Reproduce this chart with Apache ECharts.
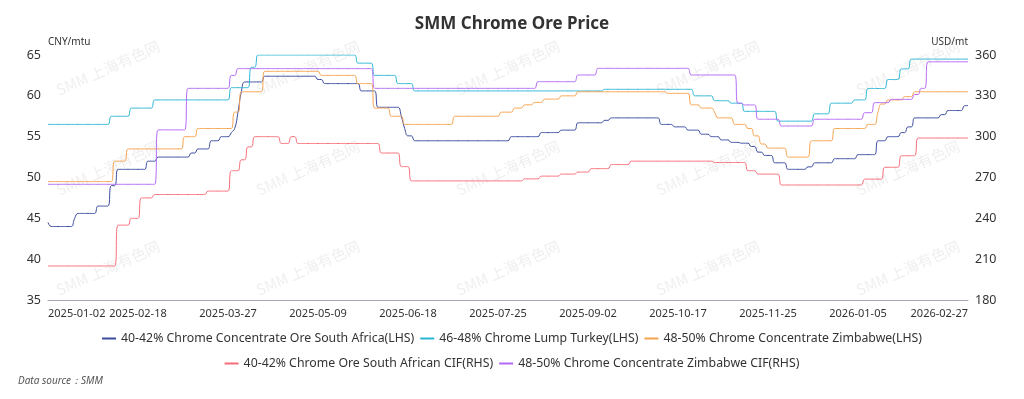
<!DOCTYPE html>
<html>
<head>
<meta charset="utf-8">
<title>SMM Chrome Ore Price</title>
<script src="https://cdn.jsdelivr.net/npm/echarts@6/dist/echarts.min.js"></script>
<style>
  html, body { margin: 0; padding: 0; background: #fff; }
  #chart { width: 1024px; height: 399px; }
</style>
</head>
<body>
<div id="chart"></div>
<script>
// trading days 2025-01-02 .. 2026-02-27 (weekdays minus CN exchange holidays)
var startDate = '2025-01-02'
var endDate = '2026-02-27'
var holidays = [
  '2025-01-28', '2025-01-29', '2025-01-30', '2025-01-31', '2025-02-03', '2025-02-04',
  '2025-04-04', '2025-05-01', '2025-05-02', '2025-05-05', '2025-06-02',
  '2025-10-01', '2025-10-02', '2025-10-03', '2025-10-06', '2025-10-07', '2025-10-08',
  '2026-01-01', '2026-01-02',
  '2026-02-16', '2026-02-17', '2026-02-18', '2026-02-19', '2026-02-20', '2026-02-23'
]

var seriesNames = [
  '40-42% Chrome Concentrate Ore South Africa(LHS)',
  '46-48% Chrome Lump Turkey(LHS)',
  '48-50% Chrome Concentrate Zimbabwe(LHS)',
  '40-42% Chrome Ore South African CIF(RHS)',
  '48-50% Chrome Concentrate Zimbabwe CIF(RHS)'
]

// one row = 27 trading days (one x label step)
var saConc = [
  44.5, 44, 44, 44, 44, 44, 44, 44, 45, 45.6, 45.6, 45.6, 45.6, 45.6, 45.6, 46.5, 46.5, 46.5, 46.5, 49, 49, 51, 51, 51, 51, 51, 51,
  51, 51, 51, 52, 52, 52, 52.5, 52.5, 52.5, 52.5, 52.5, 52.5, 52.5, 52.5, 52.5, 52.5, 53, 53, 53.5, 53.5, 53.5, 53.5, 54.5, 54.5, 54.5, 55, 55,
  55, 55.5, 56, 58, 60.5, 61.7, 61.7, 61.7, 61.7, 61.7, 61.7, 62.4, 62.4, 62.4, 62.4, 62.4, 62.4, 62.4, 62.4, 62.4, 62.4, 62.4, 62.4, 62.4, 62.4, 62.4, 62.4,
  62, 62, 61.5, 61.5, 61.5, 61.5, 61.5, 61.5, 61.5, 61.5, 61.5, 61.5, 61.5, 60.6, 60.6, 60.6, 60.6, 60.6, 58.6, 58.6, 58.6, 58.6, 58.6, 58.6, 58.6, 57.5, 56,
  55.1, 55.1, 54.5, 54.5, 54.5, 54.5, 54.5, 54.5, 54.5, 54.5, 54.5, 54.5, 54.5, 54.5, 54.5, 54.5, 54.5, 54.5, 54.5, 54.5, 54.5, 54.5, 54.5, 54.5, 54.5, 54.5, 54.5,
  54.5, 54.5, 54.5, 54.5, 55, 55, 55, 55, 55, 55, 55, 55, 55, 55.5, 55.5, 55.5, 55.5, 55.5, 55.5, 55.8, 55.8, 55.8, 55.8, 55.8, 56.7, 56.7, 56.7,
  56.7, 56.7, 56.7, 56.7, 56.7, 57, 57, 57.3, 57.3, 57.3, 57.3, 57.3, 57.3, 57.3, 57.3, 57.3, 57.3, 57.3, 57.3, 57.3, 57.3, 57.3, 56.5, 56.5, 56.5, 56.5, 56.2,
  56.2, 56.2, 56.2, 55.8, 55.8, 55.8, 55.8, 55.3, 55.3, 55.3, 55, 55, 55, 54.6, 54.6, 54.6, 54.3, 54.3, 54.3, 54.2, 54.2, 54.2, 53.8, 53.8, 53.1, 53.1, 52.7,
  52.7, 52.7, 51.8, 51.8, 51.8, 51.8, 51, 51, 51, 51, 51, 51, 51.3, 51.3, 51.8, 51.8, 51.8, 51.8, 51.8, 51.8, 52.3, 52.3, 52.3, 52.3, 52.3, 52.3, 52.3,
  52.8, 52.8, 52.8, 52.8, 52.8, 52.8, 54.5, 54.5, 54.5, 55, 55, 55, 55, 55.5, 55.5, 56.2, 56.2, 57.3, 57.3, 57.3, 57.3, 57.3, 57.3, 57.3, 57.3, 57.7, 57.7,
  58.2, 58.2, 58.2, 58.2, 58.2, 58.8, 58.8
]

var turkeyLump = [
  56.5, 56.5, 56.5, 56.5, 56.5, 56.5, 56.5, 56.5, 56.5, 56.5, 56.5, 56.5, 56.5, 56.5, 56.5, 56.5, 56.5, 56.5, 56.5, 57.5, 57.5, 57.5, 57.5, 57.5, 57.5, 58.5, 58.5,
  58.5, 58.5, 58.5, 58.5, 58.5, 59.5, 59.5, 59.5, 59.5, 59.5, 59.5, 59.5, 59.5, 59.5, 59.5, 59.5, 59.5, 59.5, 59.5, 59.5, 59.5, 59.5, 59.5, 59.5, 59.5, 59.5, 59.5,
  59.5, 61, 61, 61, 61, 61, 61, 63.5, 63.5, 65, 65, 65, 65, 65, 65, 65, 65, 65, 65, 65, 65, 65, 65, 65, 65, 65, 65,
  65, 65, 65, 65, 65, 65, 65, 65, 65, 65, 65, 65, 64, 64, 64, 64, 64, 62.5, 62.5, 62.5, 62.5, 62.5, 62.5, 62.5, 61.5, 61.5, 61.5,
  61.5, 61.5, 60.6, 60.6, 60.6, 60.6, 60.6, 60.6, 60.6, 60.6, 60.6, 60.6, 60.6, 60.6, 60.6, 60.6, 60.6, 60.6, 60.6, 60.6, 60.6, 60.6, 60.6, 60.6, 60.6, 60.6, 60.6,
  60.6, 60.6, 60.6, 60.6, 60.6, 60.6, 60.6, 60.6, 60.6, 60.6, 60.6, 60.6, 60.6, 60.6, 60.6, 60.6, 60.6, 60.6, 60.6, 60.6, 60.6, 60.6, 60.6, 60.6, 60.6, 60.6, 60.6,
  60.6, 60.6, 60.6, 60.6, 60.6, 60.8, 60.8, 60.8, 60.8, 60.8, 60.8, 60.8, 60.8, 60.8, 60.8, 60.8, 60.8, 60.8, 60.8, 60.8, 60.8, 60.8, 60.8, 60.8, 60.8, 60.8, 60.8,
  60.8, 60.8, 60.8, 60.8, 60.8, 60, 60, 60, 60, 60, 60, 59.4, 59.4, 59.4, 59.4, 59.4, 59.1, 59.1, 59.1, 59.1, 58.1, 58.1, 58.1, 58.1, 58.1, 58.1, 58.1,
  58.1, 58.1, 58.1, 56.9, 56.9, 56.9, 56.9, 56.9, 56.9, 56.9, 56.9, 56.9, 56.9, 56.9, 57.8, 57.8, 57.8, 57.8, 57.8, 59.1, 59.1, 59.1, 59.1, 59.1, 59.1, 59.1, 59.5,
  59.5, 59.5, 59.5, 60.9, 60.9, 60.9, 60.9, 60.9, 60.9, 62, 62, 62, 62, 63.3, 63.3, 63.3, 64.5, 64.5, 64.5, 64.5, 64.5, 64.5, 64.5, 64.5, 64.5, 64.5, 64.5,
  64.5, 64.5, 64.5, 64.5, 64.5, 64.5, 64.5
]

var zimConc = [
  49.5, 49.5, 49.5, 49.5, 49.5, 49.5, 49.5, 49.5, 49.5, 49.5, 49.5, 49.5, 49.5, 49.5, 49.5, 49.5, 49.5, 49.5, 49.5, 49.5, 52, 52, 52, 52, 53.5, 53.5, 53.5,
  53.5, 53.5, 53.5, 53.5, 53.5, 53.5, 53.5, 53.5, 53.5, 53.5, 53.5, 53.5, 53.5, 53.5, 55, 55, 55, 55, 56, 56, 56, 56, 56, 56, 56, 56, 56,
  56, 56, 58, 58, 60.5, 60.5, 60.5, 60.5, 60.5, 60.5, 60.5, 63, 63, 63, 63, 63, 63, 63, 63, 63, 63, 63, 63, 63, 63, 63, 63,
  63, 62.5, 62.5, 62.5, 62.5, 62.5, 62.5, 62.5, 62.5, 62.5, 62.5, 62.5, 61.5, 61.5, 61.5, 61.5, 61.5, 58.5, 58.5, 58.5, 58.5, 58.5, 57.5, 57.5, 57.5, 57.5, 56.5,
  56.5, 56.5, 56.5, 56.5, 56.5, 56.5, 56.5, 56.5, 56.5, 56.5, 56.5, 56.5, 56.5, 56.5, 57.5, 57.5, 57.5, 57.5, 57.5, 57.5, 57.5, 57.5, 57.5, 57.5, 57.5, 57.5, 57.5,
  57.5, 58, 58, 58, 58, 58.5, 58.5, 58.5, 58.9, 58.9, 58.9, 59.2, 59.2, 59.2, 59.6, 59.6, 59.6, 59.6, 59.6, 60, 60, 60, 60, 60, 60.5, 60.5, 60.5,
  60.5, 60.5, 60.5, 60.5, 60.5, 60.5, 60.5, 60.5, 60.5, 60.5, 60.5, 60.5, 60.5, 60.5, 60.5, 60.5, 60.5, 60.5, 60.5, 60.5, 60.5, 60.5, 60.5, 60.5, 60.3, 60.3, 60.3,
  60.3, 60.3, 60.3, 60.3, 58.9, 58.9, 58.9, 58.5, 58.5, 58.5, 58.5, 58, 57.3, 57.3, 57.3, 57.3, 57.3, 56.5, 56.5, 56.5, 56.5, 56, 56, 55.1, 55.1, 54.1, 54.1,
  53.6, 53.6, 53.6, 53.6, 53.6, 53.6, 52.5, 52.5, 52.5, 52.5, 52.5, 52.5, 52.5, 54.5, 54.5, 54.5, 54.5, 54.5, 54.5, 54.5, 56, 56, 56, 56, 56, 56, 56,
  56, 56, 56, 56.5, 56.5, 56.5, 58, 59, 59, 59.5, 59.5, 59.5, 59.5, 59.5, 59.9, 59.9, 59.9, 60.5, 60.5, 60.5, 60.5, 60.5, 60.5, 60.5, 60.5, 60.5, 60.5,
  60.5, 60.5, 60.5, 60.5, 60.5, 60.5, 60.5
]

var saCif = [
  205, 205, 205, 205, 205, 205, 205, 205, 205, 205, 205, 205, 205, 205, 205, 205, 205, 205, 205, 205, 205, 235, 235, 235, 235, 240, 240,
  240, 255, 255, 255, 255, 257.5, 257.5, 257.5, 257.5, 257.5, 257.5, 257.5, 257.5, 257.5, 257.5, 257.5, 257.5, 257.5, 257.5, 257.5, 257.5, 260, 260, 260, 260, 260, 260,
  260, 275, 275, 275, 283, 283, 292.5, 292.5, 300, 300, 300, 300, 300, 300, 300, 300, 295, 295, 295, 300, 300, 295, 295, 295, 295, 295, 295,
  295, 295, 295, 295, 295, 295, 295, 295, 295, 295, 295, 295, 295, 295, 295, 295, 295, 295, 295, 288, 288, 288, 288, 288, 288, 278, 278,
  278, 267.5, 267.5, 267.5, 267.5, 267.5, 267.5, 267.5, 267.5, 267.5, 267.5, 267.5, 267.5, 267.5, 267.5, 267.5, 267.5, 267.5, 267.5, 267.5, 267.5, 267.5, 267.5, 267.5, 267.5, 267.5, 267.5,
  267.5, 267.5, 267.5, 267.5, 267.5, 267.5, 267.5, 267.5, 269, 269, 269, 269, 269, 271, 271, 271, 271, 271, 271, 272.5, 272.5, 272.5, 272.5, 272.5, 274, 274, 274,
  274, 276.5, 276.5, 276.5, 276.5, 276.5, 276.5, 279.5, 279.5, 279.5, 279.5, 279.5, 279.5, 282, 282, 282, 282, 282, 282, 282, 282, 282, 282, 282, 282, 282, 282,
  282, 282, 282, 282, 282, 282, 282, 282, 282, 282, 282, 281, 281, 281, 281, 281, 281, 281, 281, 281, 281, 275, 275, 275, 272.5, 272.5, 272.5,
  272.5, 272.5, 272.5, 272.5, 264.5, 264.5, 264.5, 264.5, 264.5, 264.5, 264.5, 264.5, 264.5, 264.5, 264.5, 264.5, 264.5, 264.5, 264.5, 264.5, 264.5, 264.5, 264.5, 264.5, 264.5, 264.5, 264.5,
  264.5, 264.5, 268.8, 268.8, 268.8, 268.8, 268.8, 268.8, 277.5, 277.5, 277.5, 277.5, 277.5, 286, 286, 286, 286, 286, 299, 299, 299, 299, 299, 299, 299, 299, 299,
  299, 299, 299, 299, 299, 299, 299
]

var zimCif = [
  265, 265, 265, 265, 265, 265, 265, 265, 265, 265, 265, 265, 265, 265, 265, 265, 265, 265, 265, 265, 265, 265, 265, 265, 265, 265, 265,
  265, 265, 265, 265, 265, 265, 305, 305, 305, 305, 305, 305, 305, 305, 305, 335.5, 335.5, 335.5, 335.5, 335.5, 335.5, 335.5, 335.5, 335.5, 335.5, 335.5, 335.5,
  335.5, 345, 345, 350, 350, 350, 350, 350, 350, 350, 350, 350, 350, 350, 350, 350, 350, 350, 350, 350, 350, 350, 350, 350, 350, 350, 350,
  350, 350, 350, 350, 350, 350, 350, 350, 350, 350, 350, 350, 350, 350, 350, 350, 350, 335.5, 335.5, 335.5, 335.5, 335.5, 335.5, 335.5, 335.5, 335.5, 335.5,
  335.5, 335.5, 335.5, 335.5, 335.5, 335.5, 335.5, 335.5, 335.5, 335.5, 335.5, 335.5, 335.5, 335.5, 335.5, 335.5, 335.5, 335.5, 335.5, 335.5, 335.5, 335.5, 335.5, 335.5, 335.5, 335.5, 335.5,
  335.5, 335.5, 335.5, 335.5, 335.5, 335.5, 335.5, 335.5, 335.5, 335.5, 335.5, 335.5, 340.4, 340.4, 340.4, 340.4, 340.4, 340.4, 340.4, 340.4, 340.4, 340.4, 340.4, 340.4, 345.3, 345.3, 345.3,
  345.3, 345.3, 345.3, 350.2, 350.2, 350.2, 350.2, 350.2, 350.2, 350.2, 350.2, 350.2, 350.2, 350.2, 350.2, 350.2, 350.2, 350.2, 350.2, 350.2, 350.2, 350.2, 350.2, 350.2, 350.2, 350.2, 350.2,
  350.2, 350.2, 350.2, 350.2, 345.3, 345.3, 345.3, 345.3, 345.3, 345.3, 345.3, 345.3, 345.3, 345.3, 345.3, 345.3, 345.3, 345.3, 324.5, 324.5, 323.3, 323.3, 323.3, 323.3, 312.8, 312.8, 312.8,
  312.8, 312.8, 312.8, 312.8, 307.8, 307.8, 307.8, 307.8, 307.8, 307.8, 307.8, 307.8, 307.8, 307.8, 312.8, 312.8, 312.8, 312.8, 312.8, 312.8, 312.8, 312.8, 312.8, 312.8, 312.8, 312.8, 312.8,
  312.8, 312.8, 317.6, 317.6, 317.6, 325, 325, 325, 325, 325, 327.4, 327.4, 327.4, 327.4, 327.4, 327.4, 327.4, 331, 331, 335.5, 335.5, 355, 355, 355, 355, 355, 355,
  355, 355, 355, 355, 355, 355, 355
]

var leftTicks = { min: 35, max: 65, interval: 5 }
var rightTicks = { min: 180, max: 360, interval: 30 }
var colors = ['#3a4a9f', '#2bb5d3', '#f7a24c', '#f56c78', '#b368f4']

function tradingDays(from, to, off) {
  var out = []
  var d = new Date(from + 'T00:00:00Z')
  var end = new Date(to + 'T00:00:00Z')
  while (d <= end) {
    var s = d.toISOString().slice(0, 10)
    var wd = d.getUTCDay()
    if (wd !== 0 && wd !== 6 && off.indexOf(s) < 0) out.push(s)
    d.setUTCDate(d.getUTCDate() + 1)
  }
  return out
}

var dates = tradingDays(startDate, endDate, holidays)
var lastIdx = dates.length - 1

var chart = echarts.init(document.getElementById('chart'))

var textColor = '#333'
var baseFont = 'Noto Sans'

// faint background watermark
var marks = []
var wmX = [108, 308, 508, 708, 908]
var wmY = [68, 168, 268]
wmX.forEach(function (x) {
  wmY.forEach(function (y) {
    marks.push({
      type: 'text',
      x: x,
      y: y,
      rotation: Math.PI / 7.5,
      silent: true,
      z: -1,
      style: {
        text: 'SMM 上海有色网',
        fill: 'rgba(0,0,0,0.07)',
        font: '15px "Noto Sans CJK SC"',
        align: 'center',
        verticalAlign: 'middle'
      }
    })
  })
})
marks.push({
  type: 'text',
  left: 18,
  top: 376,
  style: {
    text: 'Data source：SMM',
    fill: '#555',
    font: 'italic 10px "Noto Sans"'
  }
})

// two centred legend rows
var legendBase = {
  left: 'center',
  icon: 'rect',
  itemWidth: 14,
  itemHeight: 2,
  itemGap: 6,
  textStyle: { fontSize: 12.3, color: textColor, lineHeight: 19 }
}

chart.setOption({
  color: colors,
  textStyle: { fontFamily: baseFont },
  title: {
    text: 'SMM Chrome Ore Price',
    left: 'center',
    top: 11,
    textStyle: { fontSize: 17, fontWeight: 'bold', color: '#333', fontFamily: baseFont }
  },
  grid: { left: 48, right: 56, top: 55, bottom: 99, containLabel: false },
  legend: [
    Object.assign({ top: 324, data: seriesNames.slice(0, 3) }, legendBase),
    Object.assign({ top: 349, data: seriesNames.slice(3) }, legendBase)
  ],
  xAxis: {
    type: 'category',
    data: dates,
    boundaryGap: false,
    axisLine: { lineStyle: { color: '#a4a8b0' } },
    axisTick: { show: false },
    axisLabel: {
      color: textColor,
      fontSize: 11,
      margin: 8,
      interval: function (i) { return (i % 27 === 0 && i <= lastIdx - 20) || i === lastIdx },
      showMinLabel: true,
      showMaxLabel: true,
      alignMinLabel: 'left',
      alignMaxLabel: 'right'
    },
    splitLine: { show: false }
  },
  yAxis: [
    {
      type: 'value',
      name: 'CNY/mtu',
      nameLocation: 'end',
      nameGap: 8,
      nameTextStyle: { fontSize: 10, color: textColor, align: 'left' },
      min: leftTicks.min,
      max: leftTicks.max,
      interval: leftTicks.interval,
      axisLine: { show: false },
      axisTick: { show: false },
      splitLine: { show: false },
      axisLabel: { color: textColor, fontSize: 12.5, margin: 7 }
    },
    {
      type: 'value',
      name: 'USD/mt',
      nameLocation: 'end',
      nameGap: 8,
      nameTextStyle: { fontSize: 10, color: textColor, align: 'right' },
      min: rightTicks.min,
      max: rightTicks.max,
      interval: rightTicks.interval,
      position: 'right',
      axisLine: { show: false },
      axisTick: { show: false },
      splitLine: { show: false },
      axisLabel: { color: textColor, fontSize: 12.5, margin: 7 }
    }
  ],
  graphic: marks,
  series: [
    { name: seriesNames[0], type: 'line', yAxisIndex: 0, data: saConc },
    { name: seriesNames[1], type: 'line', yAxisIndex: 0, data: turkeyLump },
    { name: seriesNames[2], type: 'line', yAxisIndex: 0, data: zimConc },
    { name: seriesNames[3], type: 'line', yAxisIndex: 1, data: saCif },
    { name: seriesNames[4], type: 'line', yAxisIndex: 1, data: zimCif }
  ].map(function (s) {
    s.smooth = true
    s.showSymbol = false
    s.animation = false
    s.lineStyle = { width: 1 }
    return s
  })
})
</script>
</body>
</html>
